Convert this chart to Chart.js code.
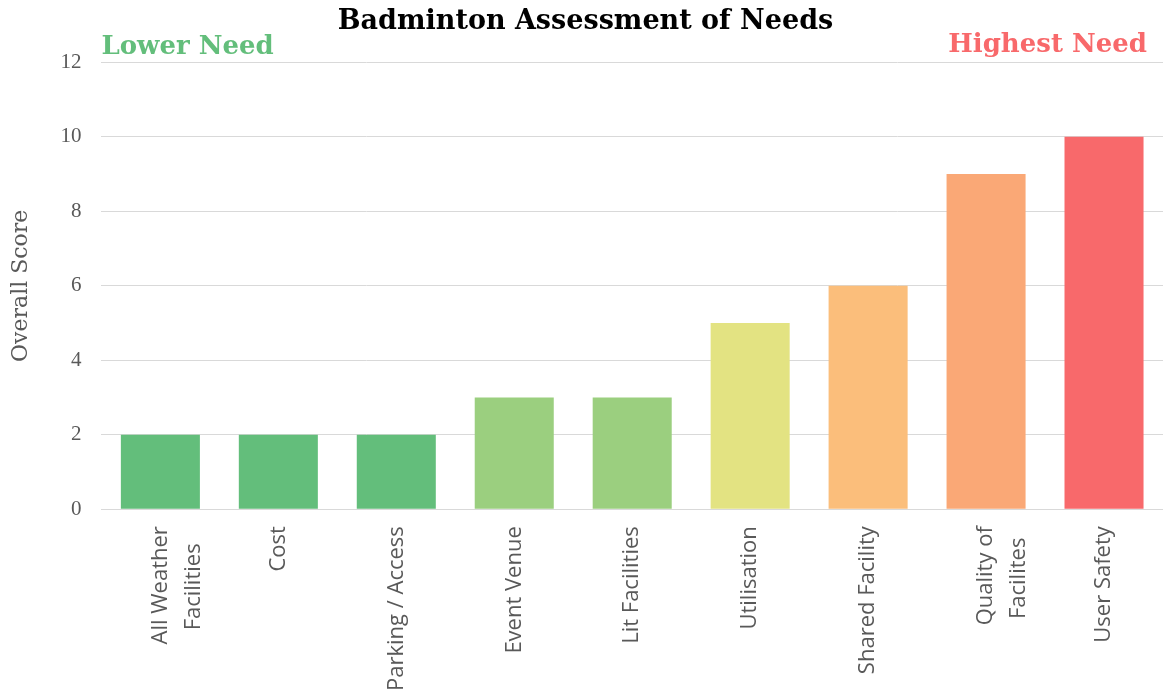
<!DOCTYPE html>
<html>
<head>
<meta charset="utf-8">
<script src="https://cdn.jsdelivr.net/npm/chart.js@4"></script>
<style>
  html, body { margin: 0; padding: 0; background: #fff; }
  #wrap { width: 1163px; height: 698px; }
</style>
</head>
<body>
<div id="wrap"><canvas id="chart"></canvas></div>
<script>
const categories = [
  ['All Weather', 'Facilities'],
  'Cost',
  'Parking / Access',
  'Event Venue',
  'Lit Facilities',
  'Utilisation',
  'Shared Facility',
  ['Quality of', 'Facilites'],
  'User Safety'
]
const scores = [2, 2, 2, 3, 3, 5, 6, 9, 10]
const barColors = [
  '#63be7b', '#63be7b', '#63be7b',
  '#9bcf7f', '#9bcf7f',
  '#e3e382',
  '#fbbe7b',
  '#faa876',
  '#f8696b'
]
const yTicks = [0, 2, 4, 6, 8, 10, 12]

const serif = "'DejaVu Serif', 'Liberation Serif', serif"
const tickSerif = "'Liberation Serif', 'DejaVu Serif', serif"
const sans = "'Open Sans', 'Noto Sans', sans-serif"
const xFontSize = 22

// rotated labels are right aligned, so pad short lines to centre them
const measure = document.createElement('canvas').getContext('2d')
measure.font = xFontSize + 'px ' + sans
function centreLines(label) {
  if (!Array.isArray(label)) return label
  const widths = label.map(l => measure.measureText(l).width)
  const maxW = Math.max(...widths)
  const spaceW = measure.measureText(' ').width
  return label.map((l, i) => l + ' '.repeat(Math.round((maxW - widths[i]) / 2 / spaceW)))
}

// corner labels drawn above the plot area
const needLabels = {
  id: 'needLabels',
  afterDraw(chart) {
    const ctx = chart.ctx
    const area = chart.chartArea
    ctx.save()
    ctx.font = 'bold 26px ' + serif
    ctx.textBaseline = 'alphabetic'
    ctx.fillStyle = '#63be7b'
    ctx.textAlign = 'left'
    ctx.fillText('Lower Need', area.left, 54)
    ctx.fillStyle = '#f8696b'
    ctx.textAlign = 'right'
    ctx.fillText('Highest Need', area.right - 16, 52)
    ctx.restore()
  }
}

new Chart(document.getElementById('chart').getContext('2d'), {
  type: 'bar',
  data: {
    labels: categories,
    datasets: [{
      data: scores,
      backgroundColor: barColors,
      borderWidth: 0,
      categoryPercentage: 1,
      barPercentage: 0.67
    }]
  },
  options: {
    responsive: true,
    maintainAspectRatio: false,
    animation: false,
    layout: { padding: { top: 0, right: 0, left: 8, bottom: -10 } },
    plugins: {
      legend: { display: false },
      tooltip: { enabled: false },
      title: {
        display: true,
        text: 'Badminton Assessment of Needs',
        color: '#000',
        font: { family: serif, size: 27, weight: 'bold' },
        padding: { top: 6, bottom: 24 }
      }
    },
    scales: {
      x: {
        grid: { display: false, drawTicks: false },
        border: { display: true, color: '#d9d9d9', width: 1 },
        ticks: {
          color: '#595959',
          font: { family: sans, size: xFontSize, lineHeight: 1.5 },
          minRotation: 90,
          maxRotation: 90,
          padding: 17,
          autoSkip: false,
          callback(value) {
            return centreLines(categories[value])
          }
        }
      },
      y: {
        min: 0,
        max: 12,
        afterBuildTicks(axis) {
          axis.ticks = yTicks.map(v => ({ value: v }))
        },
        grid: { color: '#d9d9d9', drawTicks: false },
        border: { display: false },
        ticks: {
          color: '#595959',
          font: { family: tickSerif, size: 21 },
          padding: 20
        },
        title: {
          display: true,
          text: 'Overall Score',
          color: '#595959',
          font: { family: serif, size: 22 },
          padding: { top: 0, bottom: 6 }
        }
      }
    }
  },
  plugins: [needLabels]
})
</script>
</body>
</html>
